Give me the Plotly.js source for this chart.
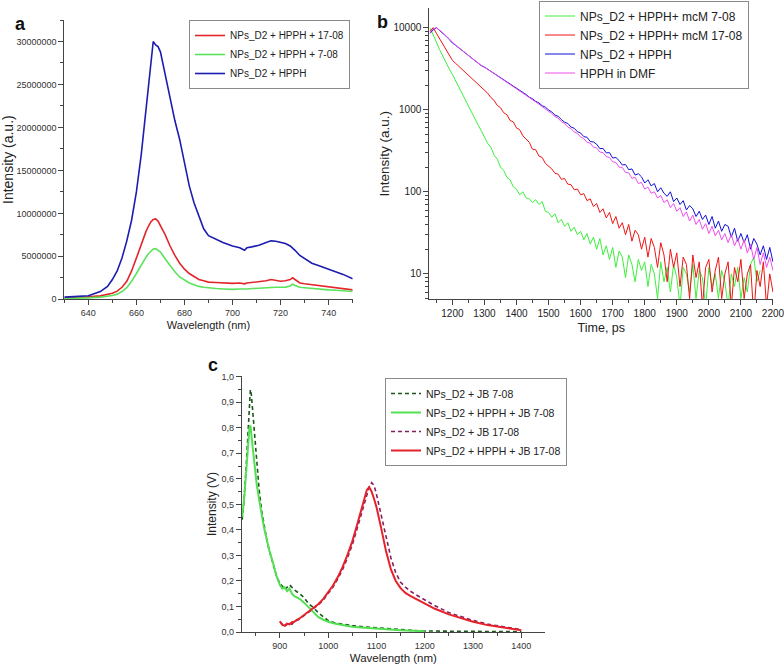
<!DOCTYPE html>
<html>
<head>
<meta charset="utf-8">
<script src="https://cdn.plot.ly/plotly-3.0.1.min.js"></script>
<style>
    html, body { margin: 0; padding: 0; background: #fff; }
    #chart { width: 784px; height: 670px; }
</style>
</head>
<body>
<div id="chart"></div>
<script>

// ---------------- panel a : emission spectra ----------------
const a_wavelength = [630, 635, 640, 645, 648, 650, 652, 654, 656, 658,
    660, 662, 664, 665, 666, 667, 668, 669, 670, 672,
    674, 676, 678, 680, 682, 684, 686, 688, 690, 693,
    696, 700, 703, 705, 706, 708, 711, 714, 716, 718,
    720, 722, 724, 725, 726, 728, 730, 733, 736, 740,
    743, 746, 750];

const a_hpph_1708 = [0.15e6, 0.2e6, 0.28e6, 0.4e6, 0.55e6, 0.7e6, 0.95e6, 1.4e6, 2.1e6, 3.3e6,
    4.8e6, 6.4e6, 7.9e6, 8.5e6, 9.0e6, 9.3e6, 9.35e6, 9.1e6, 8.6e6, 7.5e6,
    6.2e6, 5.1e6, 4.2e6, 3.5e6, 3.0e6, 2.6e6, 2.3e6, 2.15e6, 2.0e6, 1.95e6,
    1.9e6, 1.85e6, 1.9e6, 1.8e6, 1.9e6, 1.95e6, 2.0e6, 2.15e6, 2.3e6, 2.2e6,
    2.1e6, 2.15e6, 2.3e6, 2.5e6, 2.3e6, 1.9e6, 1.8e6, 1.7e6, 1.6e6, 1.45e6,
    1.4e6, 1.25e6, 1.1e6];

const a_hpph_708 = [0.1e6, 0.12e6, 0.16e6, 0.25e6, 0.35e6, 0.45e6, 0.6e6, 0.9e6, 1.35e6, 2.1e6,
    3.0e6, 4.0e6, 4.9e6, 5.3e6, 5.6e6, 5.85e6, 5.9e6, 5.75e6, 5.5e6, 4.7e6,
    3.9e6, 3.2e6, 2.6e6, 2.2e6, 1.9e6, 1.7e6, 1.5e6, 1.4e6, 1.32e6, 1.25e6,
    1.2e6, 1.15e6, 1.2e6, 1.15e6, 1.2e6, 1.25e6, 1.3e6, 1.4e6, 1.45e6, 1.4e6,
    1.4e6, 1.42e6, 1.55e6, 1.75e6, 1.6e6, 1.4e6, 1.35e6, 1.25e6, 1.2e6, 1.1e6,
    1.05e6, 0.98e6, 0.9e6];

const a_hpph = [0.25e6, 0.3e6, 0.42e6, 0.9e6, 1.5e6, 2.3e6, 3.3e6, 4.8e6, 6.8e6, 9.2e6,
    12.5e6, 16.8e6, 22.0e6, 24.8e6, 27.5e6, 30.0e6, 29.6e6, 29.4e6, 28.8e6, 26.0e6,
    23.2e6, 20.8e6, 18.6e6, 16.0e6, 13.2e6, 11.2e6, 9.6e6, 8.2e6, 7.4e6, 7.0e6,
    6.6e6, 6.2e6, 6.0e6, 5.7e6, 6.0e6, 6.1e6, 6.3e6, 6.6e6, 6.8e6, 6.75e6,
    6.6e6, 6.5e6, 6.2e6, 6.0e6, 5.7e6, 5.1e6, 4.7e6, 4.2e6, 3.9e6, 3.5e6,
    3.2e6, 2.9e6, 2.4e6];

// ---------------- panel b : fluorescence decay ----------------
const b_time = [1130, 1140, 1150, 1160, 1170, 1180, 1190, 1200, 1210, 1220,
    1230, 1240, 1250, 1260, 1270, 1280, 1290, 1300, 1310, 1320,
    1330, 1340, 1350, 1360, 1370, 1380, 1390, 1400, 1410, 1420,
    1430, 1440, 1450, 1460, 1470, 1480, 1490, 1500, 1510, 1520,
    1530, 1540, 1550, 1560, 1570, 1580, 1590, 1600, 1610, 1620,
    1630, 1640, 1650, 1660, 1670, 1680, 1690, 1700, 1710, 1720,
    1730, 1740, 1750, 1760, 1770, 1780, 1790, 1800, 1810, 1820,
    1830, 1840, 1850, 1860, 1870, 1880, 1890, 1900, 1910, 1920,
    1930, 1940, 1950, 1960, 1970, 1980, 1990, 2000, 2010, 2020,
    2030, 2040, 2050, 2060, 2070, 2080, 2090, 2100, 2110, 2120,
    2130, 2140, 2150, 2160, 2170, 2180, 2190, 2200];

const b_mcm_708 = [10000, 8300, 6700, 5400, 4500, 3700, 3150, 2700, 2250, 1870,
    1560, 1300, 1080, 915, 775, 655, 555, 470, 390, 350,
    280, 250, 200, 182, 150, 140, 115, 108, 92, 100,
    84, 82, 74, 80, 70, 76, 58, 56, 49, 54,
    42, 46, 38, 42, 33, 37, 30, 33, 26, 31,
    23, 28, 20, 27, 17, 22, 15, 21, 12, 19,
    16, 9, 17, 13, 8, 15, 11, 14, 7, 13,
    10, 5, 14, 8, 12, 6, 13, 9, 4, 12,
    10, 6, 13, 5, 11, 9, 4, 12, 7, 10,
    5, 11, 8, 4, 10, 7, 12, 5, 9, 6,
    13, 16, 8, 11, null, null, null, null];

const b_mcm_1708 = [9000, 10000, 8570, 7350, 6300, 5400, 4630, 4000, 3680, 3390,
    3120, 2870, 2640, 2430, 2230, 2060, 1890, 1740, 1590, 1410,
    1300, 1130, 1060, 920, 870, 740, 710, 600, 570, 480,
    440, 400, 330, 325, 272, 262, 222, 205, 190, 168,
    164, 142, 145, 124, 122, 106, 108, 92, 95, 78,
    82, 66, 72, 56, 62, 48, 56, 41, 50, 36,
    42, 30, 40, 25, 34, 30, 20, 28, 16, 27,
    21, 12, 24, 17, 8, 20, 12, 18, 7, 16,
    13, 5, 17, 9, 14, 4, 12, 15, 6, 11,
    16, 5, 10, 14, 4, 12, 8, 15, 5, 10,
    13, 3, 11, 7, 14, 4, 10, 6];

const b_npsd2_hpph = [8500, 9400, 10000, 9300, 8600, 7900, 7200, 6500, 6100, 5700,
    5300, 4950, 4600, 4300, 4000, 3700, 3450, 3310, 3120, 2940,
    2770, 2610, 2460, 2320, 2180, 2060, 1940, 1820, 1740, 1600,
    1530, 1420, 1360, 1265, 1210, 1120, 1075, 995, 940, 860,
    830, 760, 705, 680, 615, 595, 540, 520, 470, 462,
    410, 405, 380, 335, 338, 298, 300, 258, 262, 240,
    212, 215, 186, 190, 160, 166, 152, 128, 140, 118,
    126, 100, 112, 96, 88, 100, 76, 84, 70, 78,
    60, 68, 62, 50, 58, 46, 52, 40, 50, 36,
    44, 33, 40, 38, 28, 36, 25, 31, 24, 30,
    20, 27, 23, 17, 22, 15, 21, 14];

const b_hpph_dmf = [8800, 9600, 10000, 9350, 8650, 7950, 7250, 6550, 6120, 5720,
    5300, 4950, 4600, 4280, 3980, 3700, 3460, 3300, 3110, 2930,
    2760, 2600, 2450, 2300, 2160, 2040, 1920, 1800, 1700, 1590,
    1500, 1410, 1320, 1240, 1170, 1090, 1030, 955, 900, 825,
    790, 715, 680, 615, 590, 535, 515, 465, 445, 400,
    392, 350, 342, 305, 300, 268, 262, 232, 228, 200,
    198, 172, 170, 146, 150, 126, 130, 108, 114, 96,
    100, 84, 90, 74, 80, 64, 72, 58, 64, 50,
    57, 44, 52, 40, 46, 35, 41, 31, 38, 29,
    34, 26, 31, 24, 30, 22, 27, 20, 26, 18,
    23, 15, 21, 13, 18, 12, 16, 11];

// ---------------- panel c : NIR spectra ----------------
const c_wl_708 = [822, 826, 830, 834, 837, 839, 841, 844, 848, 852,
    857, 862, 867, 872, 878, 886, 893, 900, 905, 910,
    915, 920, 925, 930, 941, 950, 960, 970, 980, 990,
    1000, 1015, 1030, 1050, 1075, 1100, 1125, 1150, 1175, 1200,
    1250, 1300, 1350, 1400];

const c_jb_708 = [0.44, 0.52, 0.64, 0.8, 0.9, 0.95, 0.93, 0.86, 0.76, 0.66,
    0.56, 0.48, 0.42, 0.37, 0.32, 0.27, 0.22, 0.19, 0.18, 0.165,
    0.175, 0.185, 0.175, 0.165, 0.15, 0.135, 0.11, 0.095, 0.075, 0.06,
    0.045, 0.035, 0.03, 0.025, 0.02, 0.016, 0.012, 0.009, 0.006, 0.004,
    0.003, 0.002, 0.002, 0.001];

const c_hpph_jb_708 = [0.45, 0.52, 0.62, 0.74, 0.8, 0.81, 0.78, 0.72, 0.65, 0.58,
    0.52, 0.46, 0.41, 0.37, 0.32, 0.27, 0.22, 0.185, 0.17, 0.175,
    0.16, 0.17, 0.15, 0.14, 0.13, 0.115, 0.095, 0.078, 0.058, 0.048,
    0.04, 0.032, 0.026, 0.021, 0.017, 0.013, 0.01, 0.007, 0.005, 0.003,
    null, null, null, null];

const c_wl_1708 = [900, 905, 910, 915, 920, 925, 930, 935, 940, 950,
    960, 970, 980, 990, 1000, 1010, 1020, 1030, 1040, 1050,
    1060, 1070, 1075, 1080, 1085, 1090, 1095, 1100, 1110, 1120,
    1130, 1140, 1150, 1160, 1170, 1180, 1200, 1220, 1250, 1280,
    1300, 1330, 1360, 1400];

const c_jb_1708 = [0.04, 0.03, 0.022, 0.03, 0.035, 0.03, 0.042, 0.045, 0.05, 0.064,
    0.078, 0.092, 0.107, 0.126, 0.15, 0.176, 0.208, 0.245, 0.29, 0.342,
    0.405, 0.47, 0.505, 0.538, 0.568, 0.585, 0.575, 0.54, 0.455, 0.365,
    0.29, 0.232, 0.195, 0.176, 0.16, 0.148, 0.126, 0.104, 0.076, 0.056,
    0.045, 0.031, 0.021, 0.009];

const c_hpph_jb_1708 = [0.042, 0.028, 0.025, 0.033, 0.03, 0.038, 0.04, 0.048, 0.052, 0.066,
    0.08, 0.095, 0.11, 0.13, 0.155, 0.182, 0.215, 0.255, 0.302, 0.355,
    0.42, 0.49, 0.525, 0.556, 0.568, 0.55, 0.522, 0.49, 0.405, 0.315,
    0.245, 0.2, 0.172, 0.153, 0.142, 0.132, 0.112, 0.092, 0.069, 0.05,
    0.04, 0.027, 0.018, 0.007];

/////////////////////////////////////////////////////////////////////

const W = 784, H = 670;
const FONT = "'Liberation Sans', Arial, sans-serif";

// pixel box -> paper fractions (margins are zero)
function dom_x(x0, x1){ return [x0 / W, x1 / W]; }
function dom_y(y_top, y_bottom){ return [1 - y_bottom / H, 1 - y_top / H]; }

function make_axis(parameters){
    let params_ = {
        showline: true,
        linecolor: "#444",
        linewidth: 1,
        mirror: false,
        ticks: "outside",
        ticklen: 5,
        tickwidth: 1,
        tickcolor: "#444",
        showgrid: false,
        zeroline: false,
        fixedrange: true,
        exponentformat: "none",
        tickfont: { family: FONT, size: 9, color: "#333" },
    }
    for(const p in parameters){ params_[p] = parameters[p]; };
    return params_;
}

function minor_ticks(dtick){
    return { dtick: dtick, ticks: "outside", ticklen: 3, tickwidth: 1, tickcolor: "#444", showgrid: false };
}

function add_line(traces, x, y, parameters){
    let params_ = {
        name: "",
        color: "#000",
        width: 1.5,
        dash: "solid",
        xaxis: "x",
        yaxis: "y",
        legend: "legend",
    }
    for(const p in parameters){ params_[p] = parameters[p]; };

    traces.push({
        type: "scatter",
        mode: "lines",
        x: x,
        y: y,
        name: params_.name,
        xaxis: params_.xaxis,
        yaxis: params_.yaxis,
        legend: params_.legend,
        connectgaps: false,
        line: { color: params_.color, width: params_.width, dash: params_.dash },
    });
}

let traces = [];

// panel a
add_line(traces, a_wavelength, a_hpph_1708, { name: "NPs_D2 + HPPH + 17-08", color: "#e3262b", width: 1.6 });
add_line(traces, a_wavelength, a_hpph_708, { name: "NPs_D2 + HPPH + 7-08", color: "#5be35b", width: 1.6 });
add_line(traces, a_wavelength, a_hpph, { name: "NPs_D2 + HPPH", color: "#1c1cb0", width: 1.6 });

// panel b
let b_axes = { xaxis: "x2", yaxis: "y2", legend: "legend2", width: 1 };
add_line(traces, b_time, b_mcm_708, Object.assign({ name: "NPs_D2 + HPPH+ mcM 7-08", color: "#3cef3c" }, b_axes));
add_line(traces, b_time, b_mcm_1708, Object.assign({ name: "NPs_D2 + HPPH+ mcM 17-08", color: "#f01414" }, b_axes));
add_line(traces, b_time, b_npsd2_hpph, Object.assign({ name: "NPs_D2 + HPPH", color: "#1010d8" }, b_axes));
add_line(traces, b_time, b_hpph_dmf, Object.assign({ name: "HPPH in DMF", color: "#ee4eee" }, b_axes));

// panel c
let c_axes = { xaxis: "x3", yaxis: "y3", legend: "legend3" };
add_line(traces, c_wl_708, c_jb_708, Object.assign({ name: "NPs_D2 + JB 7-08", color: "#1d561d", width: 1.6, dash: "4px,3px" }, c_axes));
add_line(traces, c_wl_708, c_hpph_jb_708, Object.assign({ name: "NPs_D2 + HPPH + JB 7-08", color: "#52e052", width: 2 }, c_axes));
add_line(traces, c_wl_1708, c_jb_1708, Object.assign({ name: "NPs_D2 + JB 17-08", color: "#85205f", width: 1.6, dash: "4px,3px" }, c_axes));
add_line(traces, c_wl_1708, c_hpph_jb_1708, Object.assign({ name: "NPs_D2 + HPPH + JB 17-08", color: "#e5222a", width: 2 }, c_axes));

// legends are anchored on their right edge, top
function make_legend(x_right_px, y_top_px, font_size){
    return {
        x: x_right_px / W,
        y: 1 - y_top_px / H,
        xanchor: "right",
        yanchor: "top",
        bgcolor: "#fff",
        bordercolor: "#8a8a8a",
        borderwidth: 1,
        itemwidth: 30,
        tracegroupgap: 0,
        traceorder: "normal",
        font: { family: FONT, size: font_size, color: "#222" },
    }
}

function panel_letter(text, x_px, y_px){
    return { text: "<b>" + text + "</b>", x: x_px / W, y: 1 - y_px / H, xref: "paper", yref: "paper",
             showarrow: false, font: { family: FONT, size: 18, color: "#111" } };
}

const layout = {
    width: W,
    height: H,
    margin: { l: 0, r: 0, t: 0, b: 0, pad: 0 },
    paper_bgcolor: "#fff",
    plot_bgcolor: "#fff",
    separators: ",",
    hovermode: false,
    showlegend: true,

    xaxis: make_axis({
        anchor: "y", domain: dom_x(64.3, 352.7), range: [630, 750],
        dtick: 20, tick0: 0, minor: minor_ticks(10),
        title: { text: "Wavelength (nm)", standoff: 4, font: { family: FONT, size: 11, color: "#222" } },
    }),
    yaxis: make_axis({
        anchor: "x", domain: dom_y(20, 299.3), range: [0, 32.5e6],
        dtick: 5e6, minor: minor_ticks(2.5e6),
        title: { text: "Intensity (a.u.)", standoff: 2, font: { family: FONT, size: 14, color: "#222" } },
    }),

    xaxis2: make_axis({
        anchor: "y2", domain: dom_x(429.3, 773.3), range: [1128, 2201],
        dtick: 100, tick0: 0, minor: minor_ticks(50),
        ticklabeloverflow: "allow",
        tickfont: { family: FONT, size: 10, color: "#222" },
        title: { text: "Time, ps", standoff: 4, font: { family: FONT, size: 12.5, color: "#222" } },
    }),
    yaxis2: make_axis({
        anchor: "x2", domain: dom_y(8.3, 299.3), type: "log", range: [0.69, 4.236],
        dtick: 1, minor: minor_ticks("D1"),
        tickfont: { family: FONT, size: 10, color: "#222" },
        title: { text: "Intensity (a.u.)", standoff: 0, font: { family: FONT, size: 13.5, color: "#222" } },
    }),

    xaxis3: make_axis({
        anchor: "y3", domain: dom_x(241.7, 545), range: [821, 1449],
        dtick: 100, tick0: 0, minor: minor_ticks(50),
        title: { text: "Wavelength (nm)", standoff: 4, font: { family: FONT, size: 11.5, color: "#222" } },
    }),
    yaxis3: make_axis({
        anchor: "x3", domain: dom_y(376, 632), range: [0, 1.003],
        dtick: 0.1, tickformat: ".1f", minor: minor_ticks(0.05),
        title: { text: "Intensity (V)", standoff: 2, font: { family: FONT, size: 12, color: "#222" } },
    }),

    legend: make_legend(350, 20, 10),
    legend2: make_legend(749, 0.5, 12),
    legend3: make_legend(567, 378, 10.5),

    annotations: [
        panel_letter("a", 13, 12),
        panel_letter("b", 382, 10),
        panel_letter("c", 206, 365),
    ],
}

Plotly.newPlot("chart", traces, layout, { displayModeBar: false, staticPlot: true });

</script>
</body>
</html>
